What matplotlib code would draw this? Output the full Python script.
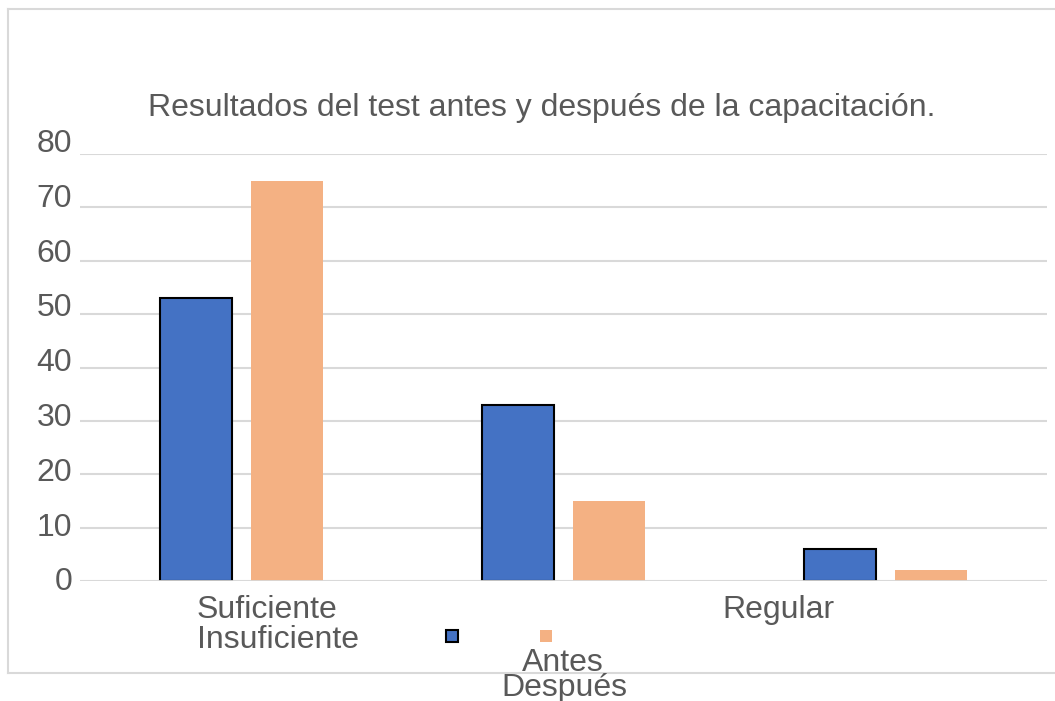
import matplotlib
matplotlib.use("Agg")
import matplotlib.pyplot as plt
from matplotlib.lines import Line2D
from matplotlib.patches import Rectangle
import matplotlib.transforms as mtransforms
import numpy as np

title = "Resultados del test antes y después de la capacitación."
categories = ["Suficiente", "Regular", "Insuficiente"]
series_names = ["Antes", "Después"]
antes = [53, 33, 6]
despues = [75, 15, 2]
yticks = [0, 10, 20, 30, 40, 50, 60, 70, 80]

W, H = 1055, 701
plt.rcParams['font.family'] = ['Liberation Sans', 'DejaVu Sans']
TXT = '#595959'
BLUE = '#4472C4'
ORANGE = '#F4B183'
GRID = '#D9D9D9'
FS = 23

fig = plt.figure(figsize=(W / 100, H / 100), dpi=100)

def fx(px):
    return px / W

def fy(py):
    return 1 - py / H

# outer chart border (left, top, bottom; right edge runs off the image)
for xs, ys in [([8, 8], [9, 673]), ([8, W], [9, 9]), ([8, W], [673, 673])]:
    fig.add_artist(Line2D([fx(v) for v in xs], [fy(v) for v in ys],
                          transform=fig.transFigure, color=GRID, linewidth=1.5))

ax = fig.add_axes([fx(80), fy(581), fx(1047 - 80), fy(154) - fy(581)])
x = np.arange(len(categories))
bw = 0.224
off = 0.141
ax.bar(x - off, antes, bw, color=BLUE, edgecolor='black', linewidth=1.5, zorder=3)
ax.bar(x + off, despues, bw, color=ORANGE, edgecolor='none', zorder=3)
ax.set_xlim(-0.5, len(categories) - 0.5)
ax.set_ylim(0, 80)
ax.set_yticks(yticks)
ax.set_yticklabels([])
ax.tick_params(axis='both', length=0)
ax.set_xticks([])
ax.grid(axis='y', color=GRID, linewidth=1.5, zorder=0)
for s in ax.spines.values():
    s.set_visible(False)
ax.axhline(0, color=GRID, linewidth=2, zorder=4)

# y tick labels (slightly more spread than the gridlines, as in the reference)
trans = mtransforms.blended_transform_factory(fig.transFigure, ax.transData)
for i, v in enumerate(yticks):
    t = trans + mtransforms.ScaledTranslation(0, (-1.5 + 1.45 * i) / 100, fig.dpi_scale_trans)
    ax.text(fx(72), v, str(v), transform=t, fontsize=FS, color=TXT,
            ha='right', va='center')

fig.text(fx(148), fy(108), title, fontsize=FS, color=TXT, ha='left', va='center')

# category labels (overlapping layout as in reference)
cat_pos = [(197, 610, 'left'), (778, 610, 'center'), (197, 640, 'left')]
for name, (px, py, ha) in zip(categories, cat_pos):
    fig.text(fx(px), fy(py), name, fontsize=FS, color=TXT, ha=ha, va='center')

# legend
fig.patches.append(Rectangle((fx(446), fy(642)), fx(12), fy(630) - fy(642),
                             transform=fig.transFigure, facecolor=BLUE,
                             edgecolor='black', linewidth=1.5))
fig.patches.append(Rectangle((fx(540), fy(642)), fx(12), fy(630) - fy(642),
                             transform=fig.transFigure, facecolor=ORANGE,
                             edgecolor='none'))
leg_pos = [(563, 663), (564, 688)]
for name, (px, py) in zip(series_names, leg_pos):
    fig.text(fx(px), fy(py), name, fontsize=FS, color=TXT, ha='center', va='center')

fig.savefig('out.png', dpi=100)
